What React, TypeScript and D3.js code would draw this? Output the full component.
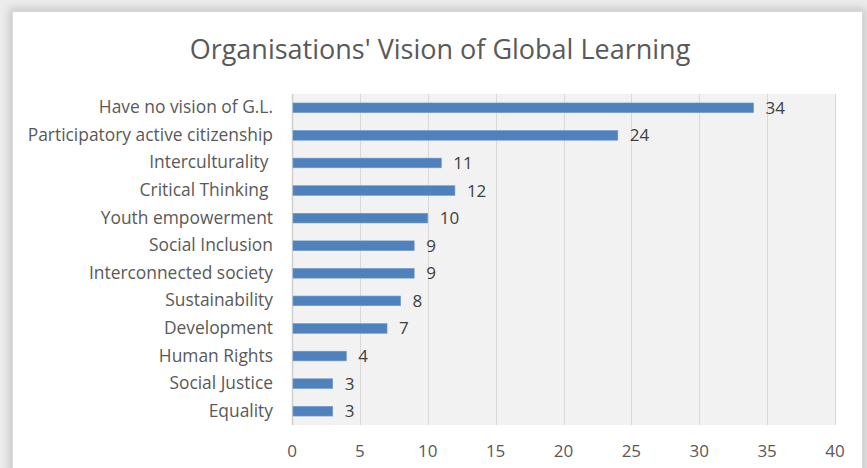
import React, { useEffect, useRef } from "react";
import * as d3 from "d3";

const categories = [
  "Have no vision of G.L.",
  "Participatory active citizenship",
  "Interculturality ",
  "Critical Thinking ",
  "Youth empowerment",
  "Social Inclusion",
  "Interconnected society",
  "Sustainability",
  "Development",
  "Human Rights",
  "Social Justice",
  "Equality",
];
const values = [34, 24, 11, 12, 10, 9, 9, 8, 7, 4, 3, 3];
const xTicks = [0, 5, 10, 15, 20, 25, 30, 35, 40];
const title = "Organisations' Vision of Global Learning";

export default function App() {
  const ref = useRef<SVGSVGElement>(null);

  useEffect(() => {
    if (!ref.current) return;
    const svg = d3.select(ref.current);
    svg.selectAll("*").remove();

    const width = 867;
    const height = 468;
    const plot = { left: 292, right: 835, top: 94, bottom: 425 };
    const font = "'Open Sans', Lato, sans-serif";

    // page / shadow
    svg.append("rect").attr("width", width).attr("height", height).attr("fill", "#ececec");
    const defs = svg.append("defs");
    const f = defs.append("filter").attr("id", "sh").attr("x", "-5%").attr("y", "-5%").attr("width", "110%").attr("height", "110%");
    f.append("feGaussianBlur").attr("stdDeviation", 4);
    svg
      .append("rect")
      .attr("x", 9)
      .attr("y", 8)
      .attr("width", 857)
      .attr("height", 470)
      .attr("fill", "#c8c8c8")
      .attr("filter", "url(#sh)");
    svg
      .append("rect")
      .attr("x", 12.5)
      .attr("y", 11.5)
      .attr("width", 850)
      .attr("height", 470)
      .attr("fill", "#fff")
      .attr("stroke", "#d9d9d9");

    svg
      .append("text")
      .attr("x", 440)
      .attr("y", 59)
      .attr("text-anchor", "middle")
      .attr("font-family", font)
      .attr("font-size", 27)
      .attr("fill", "#595959")
      .text(title);

    const x = d3.scaleLinear().domain([0, 40]).range([plot.left, plot.right]);
    const y = d3.scaleBand().domain(categories).range([plot.top, plot.bottom]).paddingInner(0.65).paddingOuter(0.325);

    svg
      .append("rect")
      .attr("x", plot.left)
      .attr("y", plot.top)
      .attr("width", plot.right - plot.left)
      .attr("height", plot.bottom - plot.top)
      .attr("fill", "#f2f2f2");

    svg
      .append("g")
      .selectAll("line")
      .data(xTicks.slice(1))
      .join("line")
      .attr("x1", (d) => Math.round(x(d)) + 0.5)
      .attr("x2", (d) => Math.round(x(d)) + 0.5)
      .attr("y1", plot.top)
      .attr("y2", plot.bottom)
      .attr("stroke", "#d9d9d9");

    svg
      .append("line")
      .attr("x1", plot.left + 0.5)
      .attr("x2", plot.left + 0.5)
      .attr("y1", plot.top)
      .attr("y2", plot.bottom)
      .attr("stroke", "#d0d0d0")
      .attr("stroke-width", 1.5);

    svg
      .append("g")
      .selectAll("rect")
      .data(values)
      .join("rect")
      .attr("x", x(0) + 1)
      .attr("y", (d, i) => y(categories[i])!)
      .attr("width", (d) => x(d) - x(0) - 1)
      .attr("height", y.bandwidth())
      .attr("fill", "#4f81bd")
      .attr("stroke", "#6f97c8")
      .attr("stroke-width", 0.6);

    svg
      .append("g")
      .selectAll("text")
      .data(values)
      .join("text")
      .attr("x", (d) => x(d) + 12)
      .attr("y", (d, i) => y(categories[i])! + y.bandwidth() / 2 + 6)
      .attr("font-family", font)
      .attr("font-size", 17)
      .attr("fill", "#404040")
      .text((d) => d);

    svg
      .append("g")
      .selectAll("text")
      .data(categories)
      .join("text")
      .attr("x", 273)
      .attr("y", (d) => y(d)! + y.bandwidth() / 2 + 5.5)
      .attr("text-anchor", "end")
      .attr("font-family", font)
      .attr("font-size", 17.4)
      .attr("fill", "#595959")
      .style("white-space", "pre")
      .text((d) => d);

    svg
      .append("g")
      .selectAll("text")
      .data(xTicks)
      .join("text")
      .attr("x", (d) => x(d))
      .attr("y", 457)
      .attr("text-anchor", "middle")
      .attr("font-family", font)
      .attr("font-size", 17)
      .attr("fill", "#595959")
      .text((d) => d);
  }, []);

  return (
    <svg
      ref={ref}
      width={867}
      height={468}
      style={{ position: "absolute", left: 0, top: 0, display: "block" }}
    />
  );
}
